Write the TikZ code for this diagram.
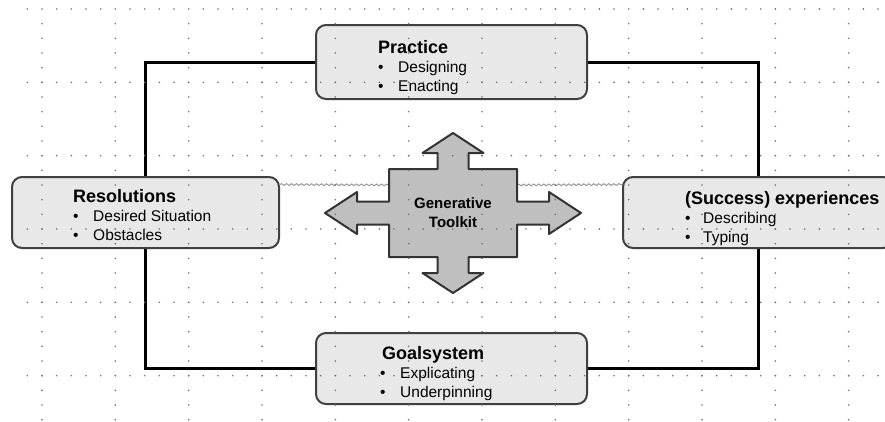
\documentclass[tikz,border=0pt]{standalone}
\usepackage{fontspec}
\setmainfont{Liberation Sans}
\usetikzlibrary{decorations.pathmorphing,backgrounds}

\newcommand{\stagehead}{\fontsize{18}{19}\selectfont\bfseries}
\newcommand{\stageitem}{\fontsize{15.5}{19}\selectfont}
\newcommand{\bulletitem}[1]{\makebox[20pt][l]{\textbullet}#1}

\begin{document}
\begin{tikzpicture}[x=1pt, y=-1pt,
	stage/.style={draw=black!75, line width=2pt, fill=black!9, rounded corners=10pt, inner sep=0pt},
	stagetext/.style={anchor=base west, inner sep=0pt, font=\stageitem},
	cycleline/.style={draw=black, line width=3pt},
	faint/.style={draw=black!40, line width=1pt, decorate, decoration={snake, amplitude=0.9pt, segment length=5pt}},
	kitshape/.style={draw=black!80, line width=2pt, fill=black!25, line join=round},
	gridpt/.style={fill=black!55}]
	\useasboundingbox (0,0) rectangle (885,421);
	\clip (0,0) rectangle (885,421);
	% toolkit (text only, cross drawn behind)
	\node[minimum width=128pt, minimum height=88pt, inner sep=0pt, align=center,
		font=\fontsize{15}{19}\selectfont\bfseries] (kit) at (453,213) {Generative\\Toolkit};
	% the four stages
	\node[stage, minimum width=271pt, minimum height=74pt] (practice) at (451.5,62) {};
	\node[stage, minimum width=267pt, minimum height=71pt] (resol) at (145.5,212.5) {};
	\node[stage, minimum width=270pt, minimum height=71pt] (success) at (758,212.5) {};
	\node[stage, minimum width=271pt, minimum height=71pt] (goal) at (451.5,368.5) {};
	% stage texts
	\node[stagetext] (practicetext) at (378,53) {\begin{tabular}[t]{@{}l@{}}
		{\stagehead Practice}\\ \bulletitem{Designing}\\ \bulletitem{Enacting}\end{tabular}};
	\node[stagetext] (resoltext) at (73,202) {\begin{tabular}[t]{@{}l@{}}
		{\stagehead Resolutions}\\ \bulletitem{Desired Situation}\\ \bulletitem{Obstacles}\end{tabular}};
	\node[stagetext] (successtext) at (685,204) {\begin{tabular}[t]{@{}l@{}}
		{\stagehead (Success) experiences}\\ \makebox[18pt][l]{\textbullet}Describing\\ \makebox[18pt][l]{\textbullet}Typing\end{tabular}};
	\node[stagetext] (goaltext) at (380,359) {\begin{tabular}[t]{@{}l@{}}
		{\stagehead\hspace{2pt}Goalsystem}\\ \bulletitem{Explicating}\\ \bulletitem{Underpinning}\end{tabular}};
	\begin{pgfonlayer}{background}
		% loop round the stages
		\draw[cycleline] (practice.west) -| (resol.north);
		\draw[cycleline] (resol.south) |- (goal.west);
		\draw[cycleline] (practice.east) -| (success.north);
		\draw[cycleline] (success.south) |- (goal.east);
		% faint links to the toolkit
		\draw[faint] ([yshift=28pt]resol.east) -- ([yshift=28pt]kit.west);
		\draw[faint] ([yshift=28pt]kit.east) -- ([yshift=28pt]success.west);
		% toolkit cross
		\begin{scope}[shift={(kit.center)}]
			\draw[kitshape] (0,-80) -- (30.5,-60) -- (15.5,-60) -- (15.5,-44) -- (64,-44) -- (64,-11.5)
				-- (96,-11.5) -- (96,-21) -- (128,0) -- (96,21) -- (96,11.5) -- (64,11.5) -- (64,44)
				-- (15.5,44) -- (15.5,60) -- (30.5,60) -- (0,80) -- (-30.5,60) -- (-15.5,60) -- (-15.5,44)
				-- (-64,44) -- (-64,11.5) -- (-96,11.5) -- (-96,21) -- (-128,0) -- (-96,-21) -- (-96,-11.5)
				-- (-64,-11.5) -- (-64,-44) -- (-15.5,-44) -- (-15.5,-60) -- (-30.5,-60) -- cycle;
		\end{scope}
	\end{pgfonlayer}
	% dotted grid on top
	\foreach \r in {0,...,5} {
		\foreach \i in {-1,...,57}
			\fill[gridpt] ({42+14.667*\i}, {9+73.333*\r}) circle (0.9pt);
	}
	\foreach \c in {0,...,11} {
		\foreach \i in {1,...,28}
			\fill[gridpt] ({42+73.333*\c}, {9+14.667*\i}) circle (0.9pt);
	}
\end{tikzpicture}
\end{document}
